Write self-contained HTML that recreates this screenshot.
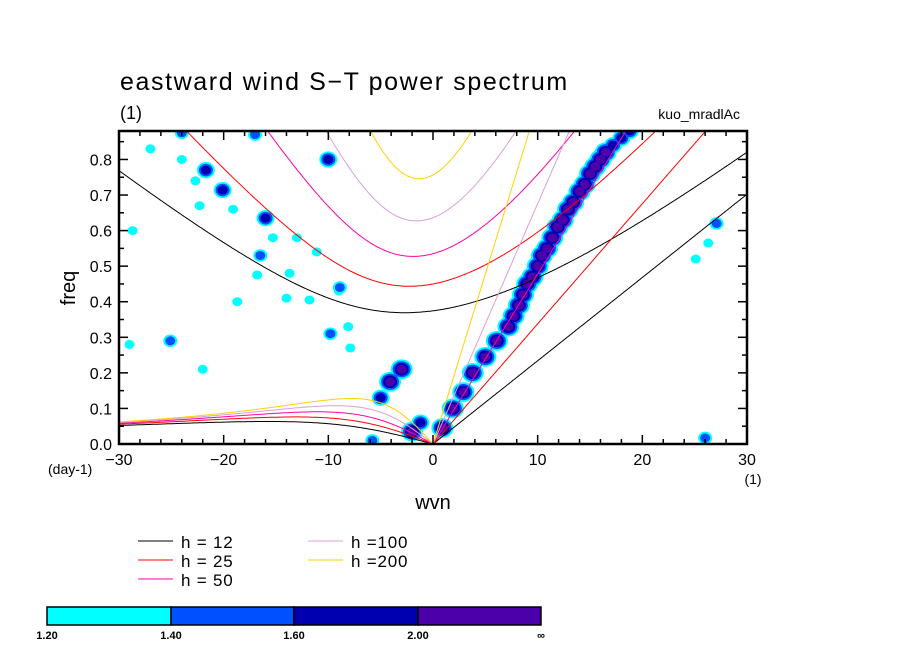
<!DOCTYPE html>
<html><head><meta charset="utf-8"><style>
body{margin:0;background:#fff;}
svg{display:block;font-family:"Liberation Sans",sans-serif;}
</style></head><body>
<svg id="chart" width="904" height="654" viewBox="0 0 904 654" xmlns="http://www.w3.org/2000/svg">
<defs><clipPath id="pc"><rect x="119" y="131" width="628" height="313"/></clipPath></defs>
<rect width="904" height="654" fill="#fff"/>
<text x="120" y="90" font-size="25" letter-spacing="1.6" fill="#000">eastward wind S−T power spectrum</text>
<text x="120" y="119" font-size="18">(1)</text>
<text x="740" y="119" font-size="14" text-anchor="end">kuo_mradlAc</text>
<g id="shade" clip-path="url(#pc)"></g>
<g id="curves" clip-path="url(#pc)"></g>
<g id="axes"></g>
<text transform="translate(75,288) rotate(-90)" font-size="20" text-anchor="middle">freq</text>
<text x="433" y="509" font-size="20" text-anchor="middle">wvn</text>
<text x="48" y="474" font-size="14">(day-1)</text>
<text x="753" y="484" font-size="14" text-anchor="middle">(1)</text>
<g id="legend"></g>
<g id="cbar"></g>
</svg>
<script>
const depths=[12,25,50,100,200];
const depthColors=["#000000","#ff0000","#ff00aa","#d8a0d8","#ffd000"];
const xTicks=[-30,-20,-10,0,10,20,30];
const yTicks=[0.0,0.1,0.2,0.3,0.4,0.5,0.6,0.7,0.8];
const levelLabels=["1.20","1.40","1.60","2.00","\u221e"];
const levelColors=["#00ffff","#0050ff","#0000b0","#4b00aa"];
// blobs: wavenumber, frequency, peak level (1..4)
const blobS=[0.9,1.9,2.9,3.8,5.0,6.1,7.2,7.7,8.2,8.6,9.0,9.5,10.0,10.4,10.9,11.4,11.9,12.4,12.9,13.4,14.0,14.5,15.0,15.5,16.0,16.5,17.2,18.0,18.8,
-3,-4.1,-5,-2,-1.2,-5.8,
-20.1,-21.7,-16,-10,-17,-24,-27,-24,-22.7,-19.1,-16.5,-13,-11.1,-11.8,-13.7,-15.3,-22.3,-28.7,-18.7,-16.8,-8.9,-14,-9.8,-9,-8.1,-7.9,-25.1,-29,-22,
27.1,26.3,25.1,26];
const blobF=[0.045,0.10,0.146,0.20,0.245,0.29,0.33,0.36,0.39,0.42,0.45,0.47,0.50,0.53,0.55,0.58,0.61,0.63,0.66,0.68,0.71,0.73,0.76,0.78,0.80,0.82,0.84,0.86,0.88,
0.21,0.175,0.13,0.035,0.06,0.01,
0.714,0.77,0.635,0.80,0.87,0.875,0.83,0.80,0.74,0.66,0.53,0.58,0.54,0.405,0.48,0.58,0.67,0.60,0.40,0.475,0.44,0.41,0.31,0.43,0.33,0.27,0.29,0.28,0.21,
0.62,0.565,0.52,0.017];
const blobL=[4,4,4,4,4,4,4,4,4,4,4,4,4,4,4,4,4,4,4,4,4,4,4,4,4,4,3,3,3,
4,4,3,4,3,2,
3,3,3,3,2,2,1,1,1,1,2,1,1,1,1,1,1,1,1,1,2,1,2,1,1,1,2,1,1,
2,1,1,2];
const NS="http://www.w3.org/2000/svg";
const X0=119,X1=747,Y0=444,YT=131,FMAX=0.88;
const xs=s=>X0+(s+30)/60*(X1-X0);
const ys=f=>Y0-f/FMAX*(Y0-YT);
function mk(tag,attrs,parent){const e=document.createElementNS(NS,tag);for(const k in attrs)e.setAttribute(k,attrs[k]);parent.appendChild(e);return e;}
const shade=document.getElementById('shade');
for(let lv=1;lv<=4;lv++){
  for(let i=0;i<blobS.length;i++){
    if(blobL[i]<lv)continue;
    const d=blobL[i]-lv;
    const e=mk('ellipse',{cx:xs(blobS[i]),cy:ys(blobF[i]),rx:5+2*d,ry:4.5+1.8*d,fill:levelColors[lv-1]},shade);
    
    
  }
}
const g=9.8,beta=2.28e-11,ae=6.371e6,toCpd=86400/(2*Math.PI);
function roots(k,c){
  const A=c*c*k*k+3*beta*c, p=-A, q=-beta*k*c*c;
  const m=2*Math.sqrt(A/3);
  let arg=(3*q/(2*p))*Math.sqrt(-3/p); arg=Math.max(-1,Math.min(1,arg));
  const th=Math.acos(arg)/3;
  return [0,1,2].map(j=>m*Math.cos(th-2*Math.PI*j/3));
}
const curves=document.getElementById('curves');
depths.forEach((h,idx)=>{
  const c=Math.sqrt(g*h);
  let kel=[],ig=[],ros=[];
  for(let s=-30;s<=30.001;s+=0.1){
    const k=s/ae;
    const r=roots(k,c).filter(v=>v>1e-12).sort((a,b)=>a-b);
    const X=xs(s);
    if(r.length) ig.push([X,ys(r[r.length-1]*toCpd)]);
    if(s<-0.01&&r.length>1) ros.push([X,ys(r[0]*toCpd)]);
    if(s>=-0.001) kel.push([X,ys(c*k*toCpd)]);
  }
  ros.push([xs(0),ys(0)]);
  [[kel,'kelvin'],[ig,'inertia-gravity'],[ros,'rossby']].forEach(([pts,nm])=>{
    const p=mk('path',{d:'M'+pts.map(q=>q[0].toFixed(1)+','+q[1].toFixed(1)).join('L'),fill:'none',stroke:depthColors[idx],'stroke-width':1},curves);
    
    
  });
});
const ax=document.getElementById('axes');
mk('rect',{x:X0,y:YT,width:X1-X0,height:Y0-YT,fill:'none',stroke:'#000','stroke-width':2.5},ax);
for(let s=-30;s<=30;s+=2){
  const X=xs(s),L=(s%10===0)?9:5;
  mk('line',{x1:X,y1:Y0,x2:X,y2:Y0-L,stroke:'#000','stroke-width':1.5},ax);
  mk('line',{x1:X,y1:YT,x2:X,y2:YT+L,stroke:'#000','stroke-width':1.5},ax);
}
for(let i=0;i<=17;i++){
  const f=i*0.05,Y=ys(f),L=(i%2===0)?9:5;
  mk('line',{x1:X0,y1:Y,x2:X0+L,y2:Y,stroke:'#000','stroke-width':1.5},ax);
  mk('line',{x1:X1,y1:Y,x2:X1-L,y2:Y,stroke:'#000','stroke-width':1.5},ax);
}
xTicks.forEach(t=>{
  const e=mk('text',{x:xs(t),y:Y0+21,'font-size':16,'text-anchor':'middle'},ax);
  e.textContent=(t<0?'\u2212'+(-t):t);
  
  
});
yTicks.forEach(t=>{
  const e=mk('text',{x:X0-7,y:ys(t)+6,'font-size':16,'text-anchor':'end'},ax);
  e.textContent=t.toFixed(1);
  
  
});
const lg=document.getElementById('legend');
const lpos=[[138,543],[138,562],[138,581],[308,543],[308,562]];
depths.forEach((h,i)=>{
  const [lx,ly]=lpos[i];
  const ln=mk('line',{x1:lx,y1:ly-2,x2:lx+35,y2:ly-2,stroke:depthColors[i],'stroke-width':1},lg);
  
  
  const t=mk('text',{x:lx+43,y:ly+5,'font-size':17,'letter-spacing':'0.8'},lg);
  t.textContent=h<100?('h = '+h):('h ='+h);
  
  
});
const cb=document.getElementById('cbar');
const cbx=[47,171,294,418,541];
for(let i=0;i<4;i++){
  const r=mk('rect',{x:cbx[i],y:607,width:cbx[i+1]-cbx[i],height:18,fill:levelColors[i],stroke:'#000','stroke-width':1.5},cb);
  
  
}
levelLabels.forEach((l,i)=>{
  const t=mk('text',{x:cbx[i],y:639,'font-size':11,'font-weight':'bold','text-anchor':'middle'},cb);
  t.textContent=l;
  
  
});
</script>
</body></html>
